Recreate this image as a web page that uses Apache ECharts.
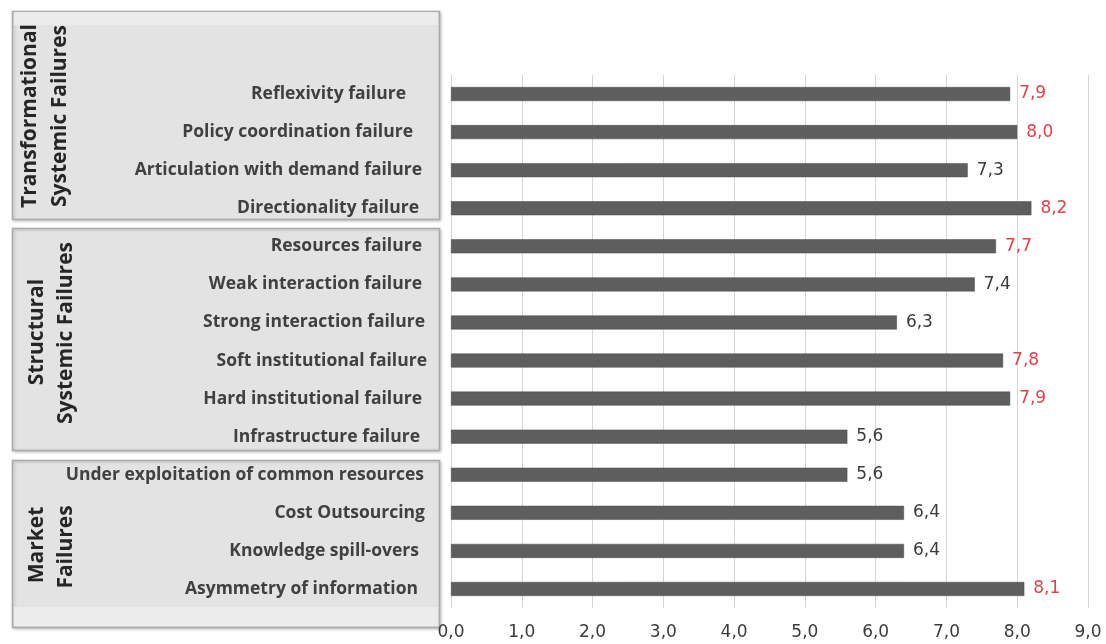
<!DOCTYPE html>
<html>
<head>
<meta charset="utf-8">
<script src="https://cdn.jsdelivr.net/npm/echarts@6/dist/echarts.min.js"></script>
<style>
  html, body { margin: 0; padding: 0; background: #ffffff; }
  #chart { width: 1106px; height: 644px; }
</style>
</head>
<body>
<div id="chart"></div>
<script>
// Failure types, top to bottom
const categories = [
  'Reflexivity failure',
  'Policy coordination failure',
  'Articulation with demand failure',
  'Directionality failure',
  'Resources failure',
  'Weak interaction failure',
  'Strong interaction failure',
  'Soft institutional failure',
  'Hard institutional failure',
  'Infrastructure failure',
  'Under exploitation of common resources',
  'Cost Outsourcing',
  'Knowledge spill-overs',
  'Asymmetry of information'
];

// Mean score per failure type
const scores = [7.9, 8.0, 7.3, 8.2, 7.7, 7.4, 6.3, 7.8, 7.9, 5.6, 5.6, 6.4, 6.4, 8.1];

// Axis ticks 0,0 ... 9,0
const tickValues = [0, 1, 2, 3, 4, 5, 6, 7, 8, 9];

// Group headings (lines of each rotated heading)
const groupTitles = [
  ['Transformational', 'Systemic Failures'],
  ['Structural', 'Systemic Failures'],
  ['Market', 'Failures']
];

// Scores at or above this value get a red label
const HIGHLIGHT_FROM = 7.5;

// Small right-hand insets of the hand-placed category labels (px)
const labelInsets = [19, 12, 3, 6, 3, 3, 0, -2, 3, 5, 1, 0, 6, 7];

const fmt = v => v.toFixed(1).replace('.', ',');

const chart = echarts.init(document.getElementById('chart'), null, { renderer: 'canvas' });

const LABEL_FONT = '"Open Sans", Lato, sans-serif';
const NUM_FONT = '"DejaVu Sans", Verdana, sans-serif';

// Group panels behind the category labels
const panels = [
  { y: 11, h: 208, light: { y: 12, h: 13 } },
  { y: 228, h: 222, light: null },
  { y: 460, h: 167, light: { y: 607, h: 19 } }
];
const headingPos = [
  [{ x: 30, y: 116 }, { x: 60, y: 116 }],
  [{ x: 37, y: 332 }, { x: 66, y: 333 }],
  [{ x: 37, y: 545 }, { x: 66, y: 547 }]
];

const graphics = [];
panels.forEach((p, i) => {
  graphics.push({
    type: 'rect', z: -10, silent: true,
    shape: { x: 12.5, y: p.y + 0.5, width: 427, height: p.h },
    style: {
      fill: '#e3e3e3', stroke: '#ababab', lineWidth: 1.5,
      shadowBlur: 3, shadowOffsetX: 1, shadowOffsetY: 1, shadowColor: 'rgba(0,0,0,0.22)'
    }
  });
  if (p.light) {
    graphics.push({
      type: 'rect', z: -9, silent: true,
      shape: { x: 14, y: p.light.y, width: 424, height: p.light.h },
      style: { fill: '#ececec' }
    });
  }
  groupTitles[i].forEach((line, j) => {
    graphics.push({
      type: 'text', z: 10, silent: true,
      x: headingPos[i][j].x, y: headingPos[i][j].y,
      rotation: Math.PI / 2,
      style: {
        text: line, fill: '#262626',
        font: 'bold 21px ' + LABEL_FONT,
        align: 'center', verticalAlign: 'middle'
      }
    });
  });
});

chart.setOption({
  animation: false,
  backgroundColor: '#ffffff',
  grid: { left: 451, right: 18, top: 75, bottom: 36, containLabel: false },
  xAxis: {
    type: 'value',
    min: tickValues[0],
    max: tickValues[tickValues.length - 1],
    interval: 1,
    axisLine: { show: false },
    axisTick: { show: false },
    splitLine: { show: true, lineStyle: { color: '#d6d6d6', width: 1 } },
    axisLabel: {
      margin: 16,
      color: '#3b3b3b',
      fontFamily: NUM_FONT,
      fontSize: 17,
      formatter: v => fmt(v)
    }
  },
  yAxis: {
    type: 'category',
    inverse: true,
    data: categories.map((name, i) => ({
      value: name,
      textStyle: { padding: [0, labelInsets[i], 0, 0] }
    })),
    axisLine: { show: false },
    axisTick: { show: false },
    axisLabel: {
      margin: 26,
      color: '#404040',
      fontFamily: LABEL_FONT,
      fontWeight: 'bold',
      fontSize: 17.5
    }
  },
  series: [{
    type: 'bar',
    data: scores.map(v => ({
      value: v,
      label: { color: v >= HIGHLIGHT_FROM ? '#e5404a' : '#3b3b3b' }
    })),
    barWidth: 14,
    itemStyle: { color: '#5e5e5e', borderColor: '#4a4a4a', borderWidth: 0.5 },
    label: {
      show: true,
      position: 'right',
      distance: 9,
      fontFamily: NUM_FONT,
      fontSize: 17,
      formatter: p => fmt(p.value)
    }
  }],
  graphic: graphics
});
</script>
</body>
</html>
